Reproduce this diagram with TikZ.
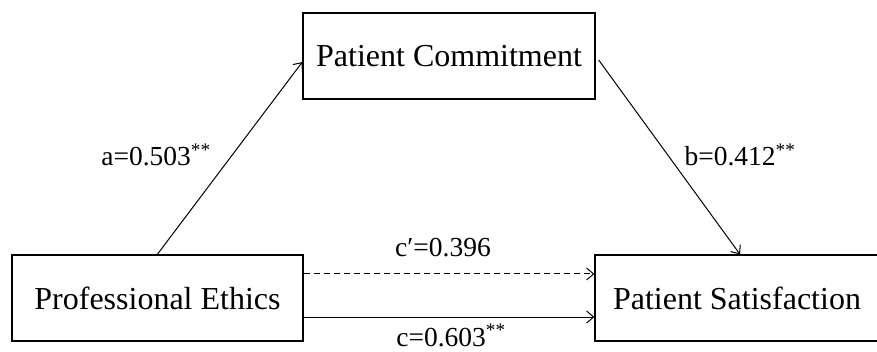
\documentclass[tikz,border=0pt]{standalone}
\usepackage{fontspec}
\setmainfont{Liberation Serif}
\usetikzlibrary{arrows.meta}

\newcommand{\toprow}{56}
\newcommand{\botrow}{298}

\tikzset{
  varbox/.style={draw, line width=1.3pt, rectangle, minimum height=86pt,
                 inner sep=0pt, font=\fontsize{32}{38}\selectfont},
  coef/.style={anchor=base, inner sep=0pt, font=\fontsize{27.5}{32}\selectfont},
  path/.style={line width=1pt, -{Straight Barb[length=7pt,width=12pt,line width=1pt]}},
}

\begin{document}
\begin{tikzpicture}[x=1pt,y=-1pt]
\useasboundingbox (0,0) rectangle (877,352);
\fill[white] (0,0) rectangle (877,352);

% variables
\node[varbox, minimum width=292pt] (commit) at (449,\toprow) {Patient Commitment};
\node[varbox, minimum width=291pt] (ethics) at (157.5,\botrow) {Professional Ethics};
\node[varbox, minimum width=284pt] (satisf) at (737,\botrow) {Patient Satisfaction};

% paths
\draw[path] ([xshift=146pt]ethics.north west) -- ([yshift=-6pt]commit.west);
\draw[path] ([xshift=3pt,yshift=-4pt]commit.east) -- ([xshift=3pt]satisf.north);
\draw[path,dashed,dash pattern=on 6pt off 4pt] ([yshift=24pt]ethics.east) -- ([yshift=24pt]satisf.west);
\draw[path] ([yshift=-19pt]ethics.east) -- ([yshift=-19pt]satisf.west);

% coefficients
\node[coef] (acoef) at (156,166) {a=0.503\textsuperscript{**}};
\node[coef] (bcoef) at (740,166) {b=0.412\textsuperscript{**}};
\node[coef] (cpcoef) at (443,257) {c′=0.396};
\node[coef] (ccoef) at (451,346) {c=0.603\textsuperscript{**}};
\end{tikzpicture}
\end{document}
